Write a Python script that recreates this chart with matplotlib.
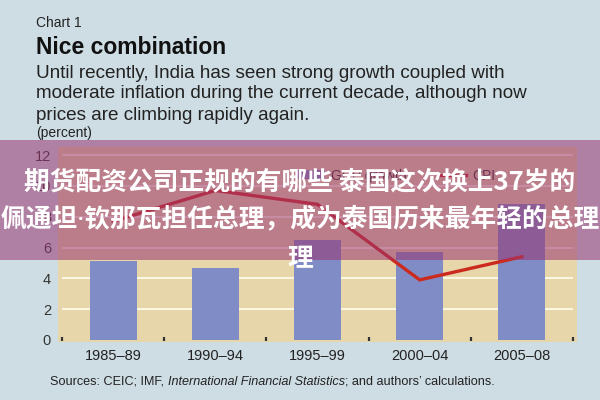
import matplotlib
matplotlib.use("Agg")
import matplotlib.pyplot as plt
from matplotlib.patches import Rectangle, Patch
from matplotlib.lines import Line2D
import numpy as np

# ---- data ----
categories = ["1985\u201389", "1990\u201394", "1995\u201399", "2000\u201304", "2005\u201308"]
gdp_growth = [5.1, 4.7, 6.5, 5.7, 8.8]
cpi = [7.7, 9.7, 8.8, 3.9, 5.4]
y_ticks = [0, 2, 4, 6, 8, 10, 12]

BG = "#cedde4"
PLOT_BG = "#e6d6a9"
BAR = "#7f8cc5"
LINE = "#cc2a1f"
TXT = "#222222"

W, H = 600, 400
fig = plt.figure(figsize=(6, 4), dpi=100, facecolor=BG)

def fx(px):
    return px / W

def fy(py):
    return 1 - py / H

ax = fig.add_axes([fx(58), fy(342), fx(577) - fx(58), fy(147) - fy(342)])
ax.set_facecolor(PLOT_BG)
for s in ax.spines.values():
    s.set_visible(False)

x = np.arange(len(categories))
bounds = np.arange(len(categories) + 1) - 0.5

ax.set_xlim(-0.539, 4.539)
ax.set_ylim(-0.13, 12.52)

# gridlines
ax.hlines([t for t in y_ticks if t > 0], bounds[0], bounds[-1], colors="#fffbea",
          linewidth=1.3, zorder=1)
ax.bar(x, gdp_growth, width=0.46, color=BAR, zorder=2)
ax.plot(x, cpi, color=LINE, linewidth=2.4, zorder=3, solid_joinstyle="miter")
# small boundary tick marks
ax.vlines(bounds, -0.05, 0.22, colors="#333333", linewidth=1.6, zorder=3)

ax.set_yticks(y_ticks)
ax.set_yticklabels([str(t) for t in y_ticks], fontsize=10.5, color="#333333",
                   family="Liberation Sans")
ax.set_xticks(x)
ax.set_xticklabels(categories, fontsize=10.5, color=TXT, family="Liberation Sans")
ax.tick_params(axis="both", length=0)
ax.tick_params(axis="y", pad=5)
ax.tick_params(axis="x", pad=5)

handles = [Patch(facecolor=BAR, edgecolor="none"),
           Line2D([0], [0], color=LINE, linewidth=2.4)]
leg = ax.legend(handles, ["GDP growth", "CPI"], ncol=2, frameon=False,
                loc="upper left", bbox_to_anchor=(fx(283), fy(156)),
                bbox_transform=fig.transFigure,
                handlelength=2.1, handleheight=0.6, handletextpad=0.45,
                columnspacing=2.2,
                prop={"family": "Liberation Sans", "size": 10})
for t in leg.get_texts():
    t.set_color("#333333")

# titles
fig.text(fx(36), fy(23), "Chart 1", fontsize=10, color=TXT, va="center",
         family="Liberation Sans")
fig.text(fx(36), fy(48), "Nice combination", fontsize=16.5, fontweight="bold",
         color="#111111", va="center", family="Liberation Sans")
body = ["Until recently, India has seen strong growth coupled with",
        "moderate inflation during the current decade, although now",
        "prices are climbing rapidly again."]
for i, line in enumerate(body):
    fig.text(fx(36), fy(73 + 21 * i), line, fontsize=13.6, color=TXT, va="center",
             family="Liberation Sans")
fig.text(fx(36), fy(133), "(percent)", fontsize=10, color=TXT, va="center",
         family="Liberation Sans")

# sources
fs_src = 9.1
t1 = fig.text(fx(50), fy(382), "Sources: CEIC; IMF, ", fontsize=fs_src, color=TXT,
              va="center", family="Liberation Sans")
fig.canvas.draw()
r = t1.get_window_extent()
t2 = fig.text(r.x1 / W, fy(382), "International Financial Statistics", fontsize=fs_src,
              color=TXT, va="center", style="italic", family="Liberation Sans")
fig.canvas.draw()
r2 = t2.get_window_extent()
fig.text(r2.x1 / W, fy(382), "; and authors\u2019 calculations.", fontsize=fs_src,
         color=TXT, va="center", family="Liberation Sans")

# overlay banner
fig.patches.append(Rectangle((0, fy(260)), 1, fy(140) - fy(260),
                             transform=fig.transFigure, facecolor="#993471",
                             alpha=0.55, edgecolor="none", zorder=10))
cjk = ["Noto Sans CJK SC", "DejaVu Sans"]
cjk2 = ["Noto Sans", "Noto Sans CJK SC", "DejaVu Sans"]
fig.text(0.5, fy(182), "期货配资公司正规的有哪些 泰国这次换上37岁的", fontsize=18.5,
         fontweight="bold", color="white", ha="center", va="center", family=cjk,
         zorder=11)
fig.text(0.5, fy(219), "佩通坦·钦那瓦担任总理，成为泰国历来最年轻的总理", fontsize=18.5,
         fontweight="bold", color="white", ha="center", va="center", family=cjk2,
         zorder=11)
fig.text(0.5, fy(259), "理", fontsize=18.5, fontweight="bold", color="white",
         ha="center", va="center", family=cjk, zorder=11)

fig.savefig("out.png", dpi=100, facecolor=BG)
